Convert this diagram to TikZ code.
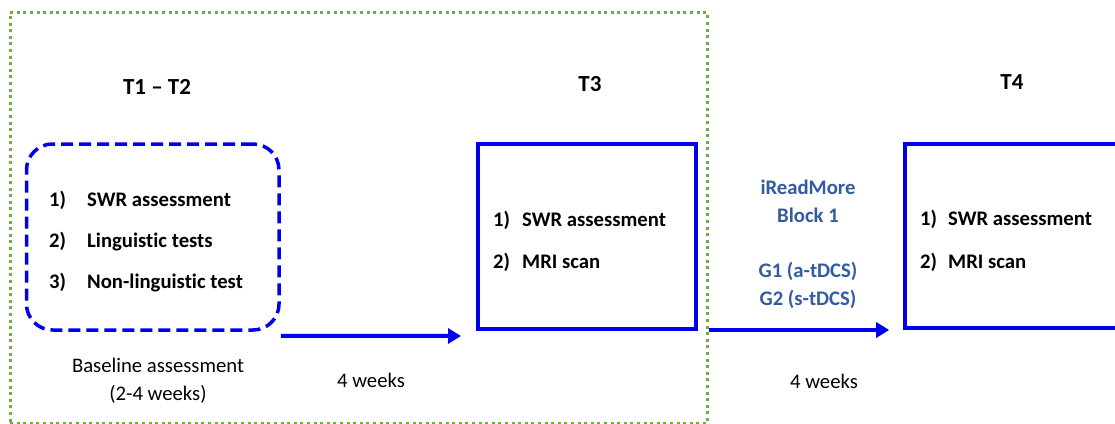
\documentclass[tikz,border=0pt]{standalone}
\usepackage{fontspec}
\setmainfont{Carlito}[Ligatures=NoCommon]
\usetikzlibrary{arrows.meta}

\definecolor{flowblue}{RGB}{0,0,235}
\definecolor{framegreen}{RGB}{112,173,71}
\definecolor{textblue}{RGB}{52,90,160}

\tikzset{
  frame/.style={draw=framegreen, line width=3pt, dash pattern=on 3pt off 3.6pt,
    inner sep=0pt, minimum width=697pt, minimum height=411pt},
  stagebox/.style={draw=flowblue, line width=4pt, inner sep=0pt},
  basebox/.style={draw=flowblue, line width=3.5pt, dash pattern=on 12pt off 6pt,
    rounded corners=26pt, inner sep=0pt},
  title/.style={font=\fontsize{23}{27}\selectfont\bfseries, anchor=base, inner sep=0pt},
  item/.style={font=\fontsize{20.7}{24}\selectfont\bfseries, anchor=base west, inner sep=0pt},
  note/.style={font=\fontsize{20.7}{24}\selectfont, anchor=base, inner sep=0pt},
  treat/.style={font=\fontsize{20.7}{24}\selectfont\bfseries, text=textblue, anchor=base, inner sep=0pt},
  flow/.style={draw=flowblue, line width=4pt, -{Triangle[length=13pt,width=15pt]}}
}

\begin{document}
\begin{tikzpicture}[x=1pt,y=-1pt]
\useasboundingbox (0,0) rectangle (1115,423);

% dotted frame around the baseline and T3 period
\node[frame] (frame) at (358.5,218) {};

% stage headings
\node[title] (h12) at (157,94.5) {T1 -- T2};
\node[title] (h3) at (590,91.5) {T3};
\node[title] (h4) at (1012,89.5) {T4};

% baseline assessment box
\node[basebox, minimum width=252.5pt, minimum height=186pt] (base) at (152.75,237) {};
\node[item] (b1n) at (49,206) {1)};
\node[item] (b1t) at (87,206) {SWR assessment};
\node[item] (b2n) at (49,247) {2)};
\node[item] (b2t) at (87,247) {Linguistic tests};
\node[item] (b3n) at (49,288) {3)};
\node[item] (b3t) at (87,288) {Non-linguistic test};

\node[note] (bl1) at (158,372) {Baseline assessment};
\node[note] (bl2) at (158,400) {(2-4 weeks)};

% T3 box
\node[stagebox, minimum width=217.5pt, minimum height=185.3pt] (t3) at (586.75,236.35) {};
\node[item] (c1n) at (493,226.5) {1)};
\node[item] (c1t) at (522,226.5) {SWR assessment};
\node[item] (c2n) at (493,268.5) {2)};
\node[item] (c2t) at (522,268.5) {MRI scan};

% T4 box, running past the right edge
\node[stagebox, minimum width=240pt, minimum height=184pt] (t4) at (1024.7,236) {};
\node[item] (d1n) at (920,225.5) {1)};
\node[item] (d1t) at (948,225.5) {SWR assessment};
\node[item] (d2n) at (920,268.5) {2)};
\node[item] (d2t) at (948,268.5) {MRI scan};

% treatment block labels
\node[treat] (ir1) at (808,194) {iReadMore};
\node[treat] (ir2) at (808,222.5) {Block 1};
\node[treat] (g1) at (808,277) {G1 (a-tDCS)};
\node[treat] (g2) at (808,305) {G2 (s-tDCS)};

% intervals
\node[note] (w1) at (371,387) {4 weeks};
\node[note] (w2) at (824,388) {4 weeks};

% connectors
\draw[flow] ([yshift=-4pt]base.south east) -- ([xshift=-15pt,yshift=-5pt]t3.south west);
\draw[flow] (frame.east |- t4.south west) -- ([xshift=-13.5pt]t4.south west);
\end{tikzpicture}
\end{document}
